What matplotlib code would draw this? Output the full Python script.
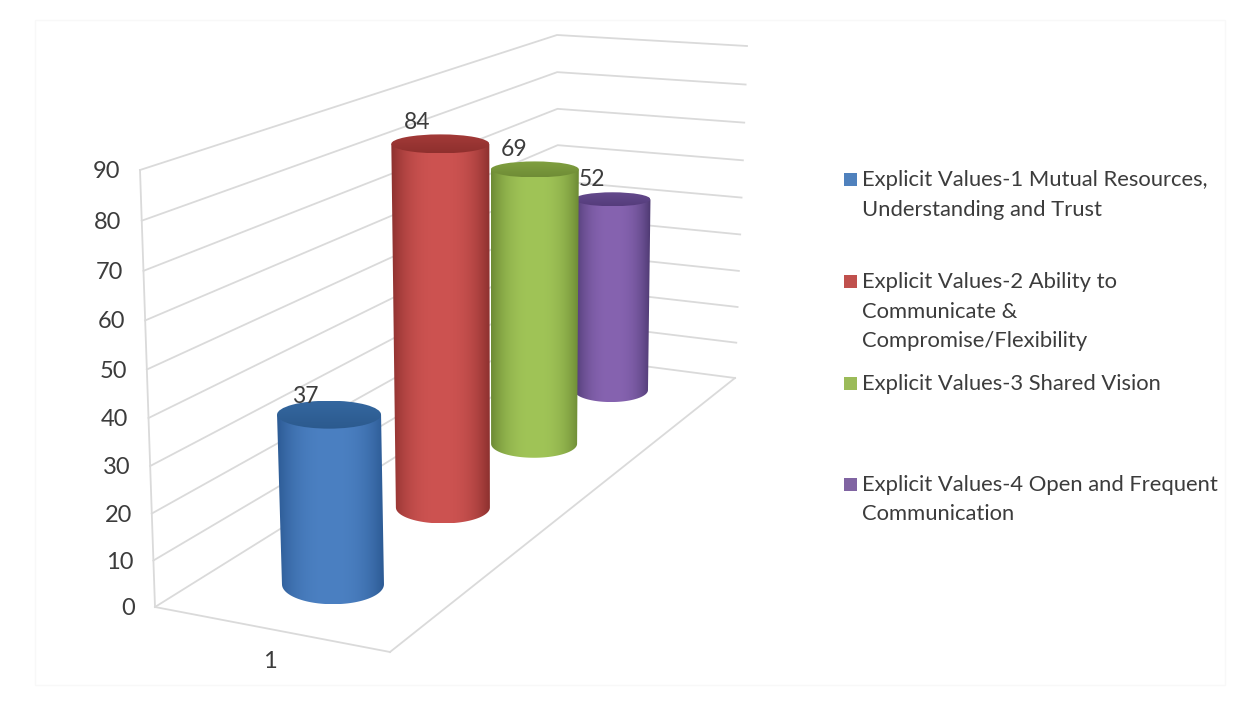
import numpy as np
import matplotlib
matplotlib.use("Agg")
import matplotlib.pyplot as plt
from matplotlib.patches import Rectangle, PathPatch, Ellipse
from matplotlib.path import Path

# ---- chart data ----
SERIES_LINES = [
    ["Explicit Values-1 Mutual Resources,", "Understanding and Trust"],
    ["Explicit Values-2 Ability to", "Communicate &", "Compromise/Flexibility"],
    ["Explicit Values-3 Shared Vision"],
    ["Explicit Values-4 Open and Frequent", "Communication"],
]
SERIES_VALUES = [37, 84, 69, 52]
VALUE_TICKS = [0, 10, 20, 30, 40, 50, 60, 70, 80, 90]
CATEGORY_LABEL = "1"

# ---- colours ----
LEGEND_COLORS = ["#4f81bd", "#c0504d", "#9bbb59", "#8064a2"]
SIDE_MID = ["#4b80c2", "#cd5351", "#a0c457", "#8663b0"]
SIDE_EDGE = ["#2c5a94", "#8c302e", "#6c8a34", "#4c3870"]
CAP_BACK = ["#34679f", "#a33a38", "#80a040", "#644a8c"]
CAP_FRONT = ["#2c5a8e", "#8f302e", "#6f8c36", "#553c7c"]
GRID = "#dadada"
TEXT = "#3c3c3c"

# ---- projection of the 3-D plot box onto the figure ----
FLOOR = [(155, 607), (390, 652), (735, 378), (559, 355)]
ROOF = [(140, 170), (382, 202), (747, 46), (557, 35)]
V_MAX = 90.0
V_PERSPECTIVE = 0.05


def homography(corners):
    src = [(0, 0), (1, 0), (1, 1), (0, 1)]
    A, b = [], []
    for (u, v), (x, y) in zip(src, corners):
        A.append([u, v, 1, 0, 0, 0, -u * x, -v * x])
        A.append([0, 0, 0, u, v, 1, -u * y, -v * y])
        b += [x, y]
    return np.append(np.linalg.solve(np.array(A, float), np.array(b, float)), 1).reshape(3, 3)


H_FLOOR, H_ROOF = homography(FLOOR), homography(ROOF)


def apply_h(H, u, v):
    p = H @ np.array([u, v, 1.0])
    return p[:2] / p[2]


def project(u, v, value):
    s = value / V_MAX
    t = s / (1 + V_PERSPECTIVE * (1 - s))
    return (1 - t) * apply_h(H_FLOOR, u, v) + t * apply_h(H_ROOF, u, v)


fig = plt.figure(figsize=(12.33, 7.13), dpi=100, facecolor="white")
ax = fig.add_axes([0, 0, 1, 1])
ax.axis("off")
plt.rcParams["font.family"] = ["Lato", "DejaVu Sans"]

# faint outer chart frame
ax.add_patch(Rectangle((35, 20), 1190, 665, fill=False, ec="#f8f8f8", lw=1))

# walls and floor
for val in VALUE_TICKS:
    a, b, c = project(0, 0, val), project(0, 1, val), project(1, 1, val)
    ax.plot([a[0], b[0], c[0]], [a[1], b[1], c[1]], color=GRID, lw=1.3, zorder=1)
    ax.text(a[0] - 20, a[1] + 1.5, str(val), ha="right", va="center", fontsize=17, color=TEXT)
for start, end in [((0, 0), (1, 0)), ((1, 0), (1, 1))]:
    p, q = project(*start, 0), project(*end, 0)
    ax.plot([p[0], q[0]], [p[1], q[1]], color=GRID, lw=1.3, zorder=1)
p, q = project(0, 0, 0), project(0, 0, V_MAX)
ax.plot([p[0], q[0]], [p[1], q[1]], color=GRID, lw=1.3, zorder=1)
ax.text(270, 661, CATEGORY_LABEL, ha="center", va="center", fontsize=17, color=TEXT)

# cylinders, rearmost first
N = len(SERIES_VALUES)
U_CENTER = 0.497
RX_BOTTOM = [51, 47, 43, 37]
RX_TOP = [52, 49, 44, 38]
RIM_BOTTOM = [20, 16, 14, 12]
RIM_TOP = [14, 9.5, 8, 7]
LABEL_OFFSET = [(-24, -18), (-23, -21), (-21, -20), (-20, -20)]


def rgb(c):
    return np.array(matplotlib.colors.to_rgb(c))


def side_image(mid, edge):
    t = np.linspace(-1, 1, 256)
    w = (1 - np.abs(t) ** 2.6)[None, :, None]
    return np.clip(rgb(edge)[None, None, :] * (1 - w) + rgb(mid)[None, None, :] * w, 0, 1)


for i in range(N - 1, -1, -1):
    depth = (i + 0.5) / N
    cb = project(U_CENTER, depth, 0)
    ct = project(U_CENTER, depth, SERIES_VALUES[i])
    theta = np.linspace(np.pi, 0, 60)
    arc = np.c_[cb[0] + RX_BOTTOM[i] * np.cos(theta), cb[1] + RIM_BOTTOM[i] * np.sin(theta)]
    verts = np.vstack([[ct[0] - RX_TOP[i], ct[1]], arc, [ct[0] + RX_TOP[i], ct[1]], [ct[0] - RX_TOP[i], ct[1]]])
    patch = PathPatch(Path(verts), fc="none", ec="none", zorder=2 + (N - i))
    ax.add_patch(patch)
    x0, x1 = verts[:, 0].min(), verts[:, 0].max()
    y0, y1 = verts[:, 1].min(), verts[:, 1].max()
    im = ax.imshow(side_image(SIDE_MID[i], SIDE_EDGE[i]), extent=(x0, x1, y1, y0), aspect="auto",
                   interpolation="bilinear", zorder=2 + (N - i))
    im.set_clip_path(patch)

    cap = Ellipse(ct, 2 * RX_TOP[i], 2 * RIM_TOP[i], fc="none", ec="none", zorder=2 + (N - i))
    ax.add_patch(cap)
    grad = np.linspace(0, 1, 64)[:, None, None]
    cap_img = rgb(CAP_BACK[i])[None, None, :] * (1 - grad) + rgb(CAP_FRONT[i])[None, None, :] * grad
    im2 = ax.imshow(cap_img, extent=(ct[0] - RX_TOP[i], ct[0] + RX_TOP[i], ct[1] + RIM_TOP[i], ct[1] - RIM_TOP[i]),
                    aspect="auto", interpolation="bilinear", zorder=2 + (N - i))
    im2.set_clip_path(cap)

    ax.text(ct[0] + LABEL_OFFSET[i][0], ct[1] + LABEL_OFFSET[i][1], str(SERIES_VALUES[i]),
            ha="center", va="center", fontsize=16.5, color=TEXT, zorder=10)

# legend
LEGEND_Y = [179, 281, 383, 484]
LINE_STEP = 29.5
for y, lines, color in zip(LEGEND_Y, SERIES_LINES, LEGEND_COLORS):
    ax.add_patch(Rectangle((844, y - 6.5), 13, 13, fc=color, ec="none", zorder=5))
    for k, line in enumerate(lines):
        ax.text(862, y + 1 + k * LINE_STEP, line, ha="left", va="center", fontsize=15.8, color=TEXT)

ax.set_xlim(0, 1233)
ax.set_ylim(713, 0)
fig.savefig("out.png", dpi=100, facecolor="white")
